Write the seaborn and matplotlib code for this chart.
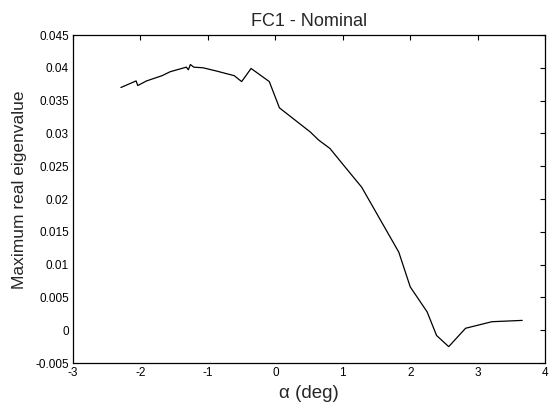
import pandas as pd
import matplotlib
matplotlib.use('Agg')
import matplotlib.pyplot as plt
import seaborn as sns

# Curve values
alpha = [-2.29, -2.065, -2.04, -1.91, -1.68, -1.56, -1.32, -1.29, -1.26, -1.21,
         -1.07, -0.87, -0.61, -0.50, -0.36, -0.09, 0.06, 0.52, 0.64, 0.81,
         1.0, 1.28, 1.83, 2.0, 2.25, 2.39, 2.57, 2.82, 3.21, 3.66]
max_eig = [0.0370, 0.0380, 0.0373, 0.0380, 0.0388, 0.0394, 0.0401, 0.0397, 0.0405, 0.0401,
           0.0400, 0.0395, 0.0388, 0.0379, 0.0399, 0.0379, 0.0339, 0.0302, 0.0290, 0.0277,
           0.0253, 0.0218, 0.0119, 0.0066, 0.0028, -0.0008, -0.0025, 0.0003, 0.0013, 0.0015]

xticks = [-3, -2, -1, 0, 1, 2, 3, 4]
yticks = [-0.005, 0, 0.005, 0.01, 0.015, 0.02, 0.025, 0.03, 0.035, 0.04, 0.045]
ytick_labels = ['-0.005', '0', '0.005', '0.01', '0.015', '0.02', '0.025',
                '0.03', '0.035', '0.04', '0.045']

df = pd.DataFrame({'alpha': alpha, 'eig': max_eig})

sns.set_style('white')
plt.rcParams['font.family'] = ['Liberation Sans', 'DejaVu Sans']

fig = plt.figure(figsize=(5.49, 4.07), dpi=100)
ax = fig.add_axes([0.133, 0.108, 0.860, 0.806])
sns.lineplot(data=df, x='alpha', y='eig', color='black', linewidth=0.9,
             sort=False, ax=ax)

ax.set_xlim(-3, 4)
ax.set_ylim(-0.005, 0.045)
ax.set_xticks(xticks)
ax.set_xticklabels([str(t) for t in xticks])
ax.set_yticks(yticks)
ax.set_yticklabels(ytick_labels)
ax.tick_params(direction='in', length=3.3, width=0.8, top=True, right=True,
               labelsize=8.5, pad=3, colors='black')
for s in ax.spines.values():
    s.set_color('black')
    s.set_linewidth(0.9)

ax.set_title('FC1 - Nominal', fontsize=13, pad=6.5)
ax.set_xlabel('\u03b1 (deg)', fontsize=13.5, labelpad=4)
ax.set_ylabel('Maximum real eigenvalue', fontsize=12.5)
ax.yaxis.set_label_coords(-0.097, 0.527)

plt.savefig('out.png', dpi=100)
